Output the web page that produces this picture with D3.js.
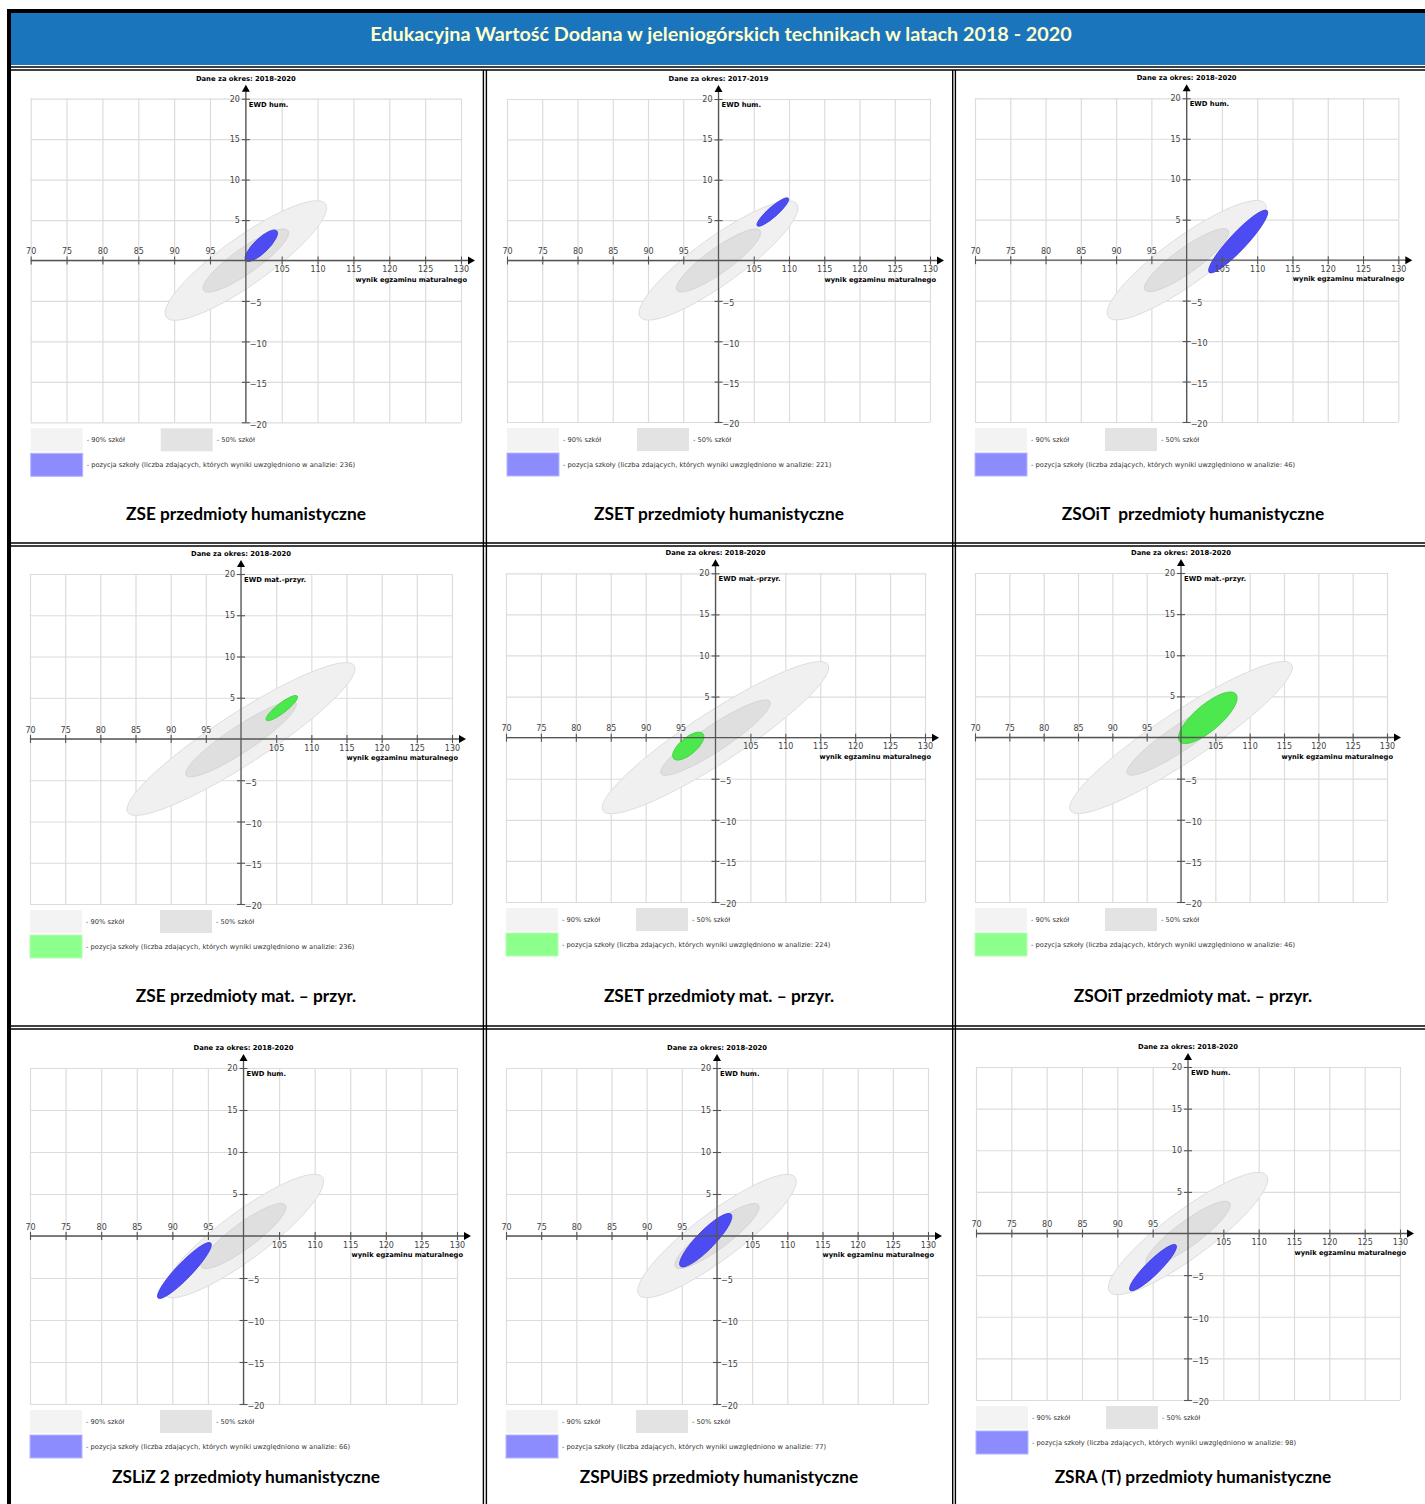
<!DOCTYPE html>
<html>
<head>
<meta charset="utf-8">
<script src="https://cdn.jsdelivr.net/npm/d3@7"></script>
<style>
  body { margin: 0; background: #fff; }
  text { font-family: "DejaVu Sans", sans-serif; }
</style>
</head>
<body>
<div id="chart"></div>
<script>
// ---- data ----
var pageTitle = "Edukacyjna Wartość Dodana w jeleniogórskich technikach w latach 2018 - 2020";

var captions = ["ZSE przedmioty humanistyczne", "ZSET przedmioty humanistyczne", "ZSOiT  przedmioty humanistyczne",
  "ZSE przedmioty mat. – przyr.", "ZSET przedmioty mat. – przyr.", "ZSOiT przedmioty mat. – przyr.",
  "ZSLiZ 2 przedmioty humanistyczne", "ZSPUiBS przedmioty humanistyczne", "ZSRA (T) przedmioty humanistyczne"];
var periods = ["2018-2020", "2017-2019", "2018-2020", "2018-2020", "2018-2020", "2018-2020", "2018-2020", "2018-2020", "2018-2020"];
var subjects = [0, 0, 0, 1, 1, 1, 0, 0, 0];            // 0 = hum, 1 = mat.-przyr.
var subjectLabels = ["EWD hum.", "EWD mat.-przyr."];
var counts = [236, 221, 46, 236, 224, 46, 66, 77, 98];

// school position ellipse: centre, tip of main axis (wynik, EWD), half width (wynik units)
var schoolCx = [102.15, 107.7, 107.3, 105.8, 96.1, 103.9, 91.7, 98.4, 95.05];
var schoolCy = [1.83, 6.0, 2.3, 3.75, -1.03, 2.4, -4.1, -0.5, -4.1];
var schoolTx = [104.3, 109.9, 111.4, 108.0, 98.2, 108.0, 95.4, 102.0, 98.3];
var schoolTy = [3.67, 7.7, 6.12, 5.2, 0.48, 5.3, -0.83, 2.6, -1.38];
var schoolMinor = [1.0, 0.7, 1.2, 0.7, 1.2, 1.9, 1.1, 1.3, 1.0];

// 90% / 50% of schools ellipses, per subject
var bandCenterX = 100, bandCenterY = 0;
var band90TipX = [111.1, 116.1], band90TipY = [7.0, 8.9], band90Minor = [3.3, 3.6];
var band50TipX = [105.9, 107.8], band50TipY = [3.7, 4.4], band50Minor = [1.75, 1.85];

var xTicks = [70, 75, 80, 85, 90, 95, 100, 105, 110, 115, 120, 125, 130];
var yTicks = [-20, -15, -10, -5, 0, 5, 10, 15, 20];
var legendTexts = ["- 90% szkół", "- 50% szkół"];

// ---- layout ----
var W = 1425, H = 1504;
// plot box of each panel: x(70), x(130), y(20), y(-20)
var boxes = [
  [30.7, 461, 98.7, 422.3], [507, 930, 99, 422], [975, 1398.3, 98.3, 422],
  [30, 452, 574, 904], [506, 925, 573.3, 902], [975, 1387, 573, 902],
  [30, 457, 1068, 1404], [506, 928, 1068, 1404], [976, 1400, 1067, 1400]
];
var colCenters = [246, 719, 1193];
var captionY = [520, 1002, 1483];
var schoolFill = ["#4c4cf2", "#4de84d"];
var schoolStroke = ["#3b3be0", "#3fd03f"];
var legendFill = ["#8c8cff", "#8cff8c"];

var svg = d3.select("#chart").append("svg")
  .attr("width", W).attr("height", H);

svg.append("rect").attr("width", W).attr("height", H).attr("fill", "#fff");

// title bar
svg.append("rect").attr("x", 11).attr("y", 13).attr("width", W - 11).attr("height", 52)
  .attr("fill", "#1b75bc");
svg.append("text")
  .attr("x", 721).attr("y", 41)
  .attr("text-anchor", "middle")
  .style("font-family", "Lato, sans-serif")
  .style("font-weight", "bold")
  .style("font-size", "19.8px")
  .attr("fill", "#ffffcc")
  .text(pageTitle);

// table borders
var borders = svg.append("g").attr("stroke", "#000");
borders.append("line").attr("x1", 7).attr("x2", W).attr("y1", 11).attr("y2", 11).attr("stroke-width", 4);
borders.append("line").attr("x1", 9).attr("x2", 9).attr("y1", 9).attr("y2", H).attr("stroke-width", 4);
[67, 70].forEach(function(yy) {
  borders.append("line").attr("x1", 11).attr("x2", W).attr("y1", yy).attr("y2", yy).attr("stroke-width", 1.4);
});
[[543, 546], [1026, 1029]].forEach(function(p) {
  p.forEach(function(yy) {
    borders.append("line").attr("x1", 11).attr("x2", W).attr("y1", yy).attr("y2", yy).attr("stroke-width", 1.4);
  });
});
[[483.4, 486.4], [952.7, 955.4]].forEach(function(p) {
  p.forEach(function(xx) {
    borders.append("line").attr("x1", xx).attr("x2", xx).attr("y1", 70).attr("y2", H).attr("stroke-width", 1.4);
  });
});

function drawEllipse(g, x, y, cx, cy, tx, ty, minor, fill, stroke) {
  var px = x(cx), py = y(cy), qx = x(tx), qy = y(ty);
  var a = Math.hypot(qx - px, qy - py);
  var ang = Math.atan2(qy - py, qx - px) * 180 / Math.PI;
  var b = x(cx + minor) - x(cx);
  g.append("ellipse")
    .attr("transform", "translate(" + px + "," + py + ") rotate(" + ang + ")")
    .attr("rx", a).attr("ry", b)
    .attr("fill", fill)
    .attr("stroke", stroke)
    .attr("stroke-width", 0.8);
}

// ---- panels ----
boxes.forEach(function(bx, i) {
  var s = subjects[i];
  var x = d3.scaleLinear().domain([70, 130]).range([bx[0], bx[1]]);
  var y = d3.scaleLinear().domain([-20, 20]).range([bx[3], bx[2]]);
  var g = svg.append("g");
  var x0 = x(100), y0 = y(0);

  // grid
  g.append("g")
    .attr("transform", "translate(0," + bx[3] + ")")
    .call(d3.axisBottom(x).tickValues(xTicks).tickSize(-(bx[3] - bx[2])).tickFormat(""))
    .call(function(a) { a.select(".domain").remove(); })
    .selectAll("line").attr("stroke", "#dcdcdc").attr("stroke-width", 1.2);
  g.append("g")
    .attr("transform", "translate(" + bx[0] + ",0)")
    .call(d3.axisLeft(y).tickValues(yTicks).tickSize(-(bx[1] - bx[0])).tickFormat(""))
    .call(function(a) { a.select(".domain").remove(); })
    .selectAll("line").attr("stroke", "#dcdcdc").attr("stroke-width", 1.2);

  // ellipses
  drawEllipse(g, x, y, bandCenterX, bandCenterY, band90TipX[s], band90TipY[s], band90Minor[s], "#f0f0f0", "#dadada");
  drawEllipse(g, x, y, bandCenterX, bandCenterY, band50TipX[s], band50TipY[s], band50Minor[s], "#dfdfdf", "#d2d2d2");
  drawEllipse(g, x, y, schoolCx[i], schoolCy[i], schoolTx[i], schoolTy[i], schoolMinor[i], schoolFill[s], schoolStroke[s]);

  // x axis
  var xa = g.append("g")
    .attr("transform", "translate(0," + y0 + ")")
    .call(d3.axisBottom(x).tickValues(xTicks.filter(function(d) { return d !== 100; })).tickSize(4));
  xa.select(".domain").remove();
  xa.selectAll(".tick line").attr("y1", -4).attr("y2", 4).attr("stroke", "#555").attr("stroke-width", 1.1);
  xa.selectAll(".tick text")
    .attr("y", function(d) { return d < 100 ? -12 : 6; })
    .attr("fill", "#444")
    .style("font-size", "8px");
  g.append("line").attr("x1", bx[0]).attr("x2", bx[1] + 9).attr("y1", y0).attr("y2", y0)
    .attr("stroke", "#555").attr("stroke-width", 1.3);
  g.append("path")
    .attr("d", "M" + (bx[1] + 14) + "," + y0 + "l-7,-4l0,8z")
    .attr("fill", "#000");

  // y axis
  var ya = g.append("g")
    .attr("transform", "translate(" + x0 + ",0)")
    .call(d3.axisLeft(y).tickValues(yTicks.filter(function(d) { return d !== 0; })).tickSize(4));
  ya.select(".domain").remove();
  ya.selectAll(".tick line").attr("x1", -4).attr("x2", 4).attr("stroke", "#555").attr("stroke-width", 1.1);
  ya.selectAll(".tick text")
    .attr("x", function(d) { return d > 0 ? -6 : 4; })
    .attr("dy", function(d) { return d > 0 ? "0.32em" : "0.6em"; })
    .attr("text-anchor", function(d) { return d > 0 ? "end" : "start"; })
    .attr("fill", "#444")
    .style("font-size", "8px");
  g.append("line").attr("x1", x0).attr("x2", x0).attr("y1", bx[3]).attr("y2", bx[2] - 9)
    .attr("stroke", "#555").attr("stroke-width", 1.3);
  g.append("path")
    .attr("d", "M" + x0 + "," + (bx[2] - 14) + "l-4,7l8,0z")
    .attr("fill", "#000");

  // labels
  g.append("text")
    .attr("x", x0).attr("y", bx[2] - 18)
    .attr("text-anchor", "middle")
    .style("font-size", "6.8px").style("font-weight", "bold")
    .text("Dane za okres: " + periods[i]);
  g.append("text")
    .attr("x", x0 + 3).attr("y", bx[2] + 8)
    .style("font-size", "6.8px").style("font-weight", "bold")
    .text(subjectLabels[s]);
  g.append("text")
    .attr("x", bx[1] + 6).attr("y", y0 + 21)
    .attr("text-anchor", "end")
    .style("font-size", "6.7px").style("font-weight", "bold")
    .text("wynik egzaminu maturalnego");

  // legend
  var ly = bx[3] + 6;
  var lx = bx[0];
  g.append("rect").attr("x", lx).attr("y", ly).attr("width", 52).attr("height", 23).attr("fill", "#f3f3f3");
  g.append("rect").attr("x", lx + 130).attr("y", ly).attr("width", 52).attr("height", 23).attr("fill", "#e3e3e3");
  g.append("rect").attr("x", lx).attr("y", ly + 25).attr("width", 52).attr("height", 23)
    .attr("fill", legendFill[s]).attr("stroke", s === 0 ? "#b5b5ff" : "#b5ffb5");
  g.append("text").attr("x", lx + 56).attr("y", ly + 14).style("font-size", "6.7px").attr("fill", "#333").text(legendTexts[0]);
  g.append("text").attr("x", lx + 186).attr("y", ly + 14).style("font-size", "6.7px").attr("fill", "#333").text(legendTexts[1]);
  g.append("text").attr("x", lx + 56).attr("y", ly + 39).style("font-size", "6.7px").attr("fill", "#333")
    .text("- pozycja szkoły (liczba zdających, których wyniki uwzględniono w analizie: " + counts[i] + ")");

  // caption
  svg.append("text")
    .attr("x", colCenters[i % 3]).attr("y", captionY[Math.floor(i / 3)])
    .attr("text-anchor", "middle")
    .style("font-family", "Lato, sans-serif")
    .style("font-weight", "bold")
    .style("font-size", "17.3px")
    .style("white-space", "pre")
    .attr("fill", "#000")
    .text(captions[i]);
});
</script>
</body>
</html>
